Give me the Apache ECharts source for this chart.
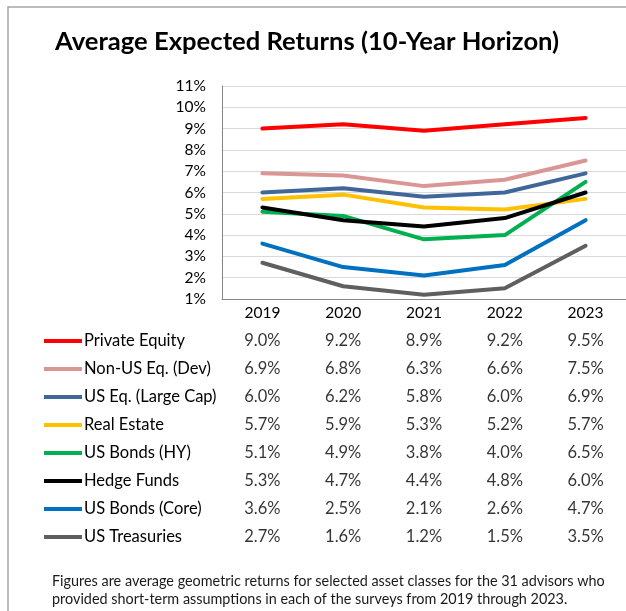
<!DOCTYPE html>
<html>
<head>
<meta charset="utf-8">
<script src="https://cdn.jsdelivr.net/npm/echarts@6/dist/echarts.min.js"></script>
<style>
html,body{margin:0;padding:0;background:#fff;}
#chart{width:626px;height:611px;}
</style>
</head>
<body>
<div id="chart"></div>
<script>
const years = ['2019', '2020', '2021', '2022', '2023'];
const seriesNames = ['Private Equity', 'Non-US Eq. (Dev)', 'US Eq. (Large Cap)', 'Real Estate', 'US Bonds (HY)', 'Hedge Funds', 'US Bonds (Core)', 'US Treasuries'];
const colors = ['#FF0000', '#DA9694', '#41679A', '#FFC000', '#00B050', '#000000', '#0070C0', '#5F5F5F'];
const privateEquity = [9.0, 9.2, 8.9, 9.2, 9.5];
const nonUsEqDev = [6.9, 6.8, 6.3, 6.6, 7.5];
const usEqLargeCap = [6.0, 6.2, 5.8, 6.0, 6.9];
const realEstate = [5.7, 5.9, 5.3, 5.2, 5.7];
const usBondsHY = [5.1, 4.9, 3.8, 4.0, 6.5];
const hedgeFunds = [5.3, 4.7, 4.4, 4.8, 6.0];
const usBondsCore = [3.6, 2.5, 2.1, 2.6, 4.7];
const usTreasuries = [2.7, 1.6, 1.2, 1.5, 3.5];
const yTicks = { min: 1, max: 11, interval: 1 };
const titleText = 'Average Expected Returns (10-Year Horizon)';
const footnote = 'Figures are average geometric returns for selected asset classes for the 31 advisors who\nprovided short-term assumptions in each of the surveys from 2019 through 2023.';

const allValues = [privateEquity, nonUsEqDev, usEqLargeCap, realEstate, usBondsHY, hedgeFunds, usBondsCore, usTreasuries];
const FONT = 'Lato';

const lineSeries = seriesNames.map((name, i) => ({
  name: name,
  type: 'line',
  xAxisIndex: 0,
  yAxisIndex: 0,
  data: allValues[i],
  symbol: 'none',
  lineStyle: { width: 4, color: colors[i], cap: 'round', join: 'round' },
  itemStyle: { color: colors[i] },
  emphasis: { disabled: true },
  animation: false
}));

const tableData = [];
allValues.forEach((vals, r) => {
  vals.forEach((v, c) => tableData.push([years[c], seriesNames[r], v]));
});

const chart = echarts.init(document.getElementById('chart'), null, { renderer: 'canvas' });
chart.setOption({
  animation: false,
  backgroundColor: '#fff',
  textStyle: { fontFamily: FONT },
  title: [
    { text: titleText, left: 55, top: 29, padding: 0,
      textStyle: { fontFamily: FONT, fontSize: 25.6, fontWeight: 'bold', color: '#000' } },
    { text: footnote, left: 52, top: 572, padding: 0,
      textStyle: { fontFamily: FONT, fontSize: 14.4, fontWeight: 'normal', color: '#1a1a1a', lineHeight: 18 } }
  ],
  graphic: [
    { type: 'rect', shape: { x: 8, y: 7, width: 700, height: 700 }, style: { fill: 'none', stroke: '#a6a6a6', lineWidth: 1.5 }, silent: true }
  ],
  legend: {
    data: seriesNames,
    orient: 'vertical',
    left: 44,
    top: 331,
    padding: 0,
    icon: 'rect',
    itemWidth: 38,
    itemHeight: 4,
    itemGap: 8,
    selectedMode: false,
    textStyle: { fontFamily: FONT, fontSize: 16.5, color: '#000', lineHeight: 20, padding: [0, 0, 0, -3] }
  },
  grid: [
    { left: 222, right: -3, top: 86, bottom: 312, containLabel: false },
    { left: 222, right: -3, top: 327, height: 224, containLabel: false }
  ],
  xAxis: [
    { type: 'category', gridIndex: 0, data: years, boundaryGap: true,
      axisLine: { lineStyle: { color: '#868686', width: 1 } },
      axisTick: { show: false },
      axisLabel: { color: '#000', fontSize: 15.5, margin: 6, fontFamily: FONT },
      splitLine: { show: false } },
    { type: 'category', gridIndex: 1, data: years, boundaryGap: true, show: false }
  ],
  yAxis: [
    { type: 'value', gridIndex: 0, min: yTicks.min, max: yTicks.max, interval: yTicks.interval,
      axisLine: { show: true, lineStyle: { color: '#868686', width: 1 } },
      axisTick: { show: false },
      axisLabel: { color: '#000', fontSize: 15.5, margin: 16, formatter: '{value}%', fontFamily: FONT },
      splitLine: { show: true, lineStyle: { color: '#d9d9d9', width: 1 } } },
    { type: 'category', gridIndex: 1, data: seriesNames, inverse: true, show: false }
  ],
  series: lineSeries.concat([{
    name: 'table',
    type: 'scatter',
    xAxisIndex: 1,
    yAxisIndex: 1,
    data: tableData,
    symbolSize: 1,
    itemStyle: { color: 'rgba(0,0,0,0)' },
    silent: true,
    label: {
      show: true, position: 'inside', color: '#000', fontSize: 16.5, fontFamily: FONT,
      formatter: p => p.value[2].toFixed(1) + '%'
    }
  }])
});
</script>
</body>
</html>
